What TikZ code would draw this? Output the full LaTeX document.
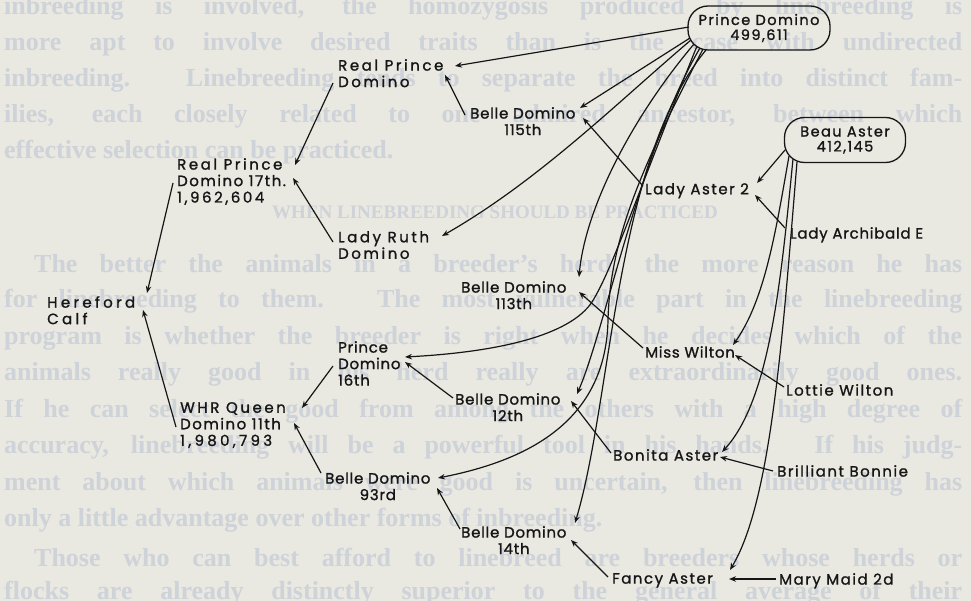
\documentclass[tikz,border=0pt]{standalone}
\usepackage{fontspec}
\setmainfont{Liberation Serif}
\newfontfamily\labA{Poppins}[LetterSpace=5,FakeBold=1.2]
\newfontfamily\labB{Poppins}[LetterSpace=10,FakeBold=1.2]
\newfontfamily\labC{Poppins}[LetterSpace=17,FakeBold=1.2]
\newfontfamily\labD{Poppins}[LetterSpace=22,FakeBold=1.2]
\usetikzlibrary{arrows.meta}
\definecolor{paper}{RGB}{233,232,225}
\definecolor{ghost}{RGB}{206,210,217}
\definecolor{ink}{RGB}{22,22,22}
\tikzset{
  lbl/.style={font=\labA\fontsize{15}{16.5}\selectfont, text=ink, inner sep=0pt, anchor=north west, align=left},
  lblc/.style={lbl, align=center},
  wideB/.style={font=\labB\fontsize{15}{16.5}\selectfont},
  wideC/.style={font=\labC\fontsize{15}{16.5}\selectfont},
  wideD/.style={font=\labD\fontsize{15}{16.5}\selectfont},
  sirebox/.style={draw=ink, line width=1.3pt, rounded corners=20pt, minimum width=142pt, minimum height=44pt,
    font=\labB\fontsize{14.5}{15}\selectfont, text=ink, align=center, inner sep=0pt},
  link/.style={draw=ink, line width=1.2pt, -{Stealth[length=7pt,width=5.5pt]}},
  bgline/.style={font=\bfseries\fontsize{26}{30}\selectfont, text=ghost, anchor=west, inner sep=0pt},
  bghead/.style={font=\bfseries\fontsize{19}{22}\selectfont, text=ghost, anchor=center, inner sep=0pt},
}
\begin{document}
\begin{tikzpicture}[x=1pt,y=-1pt]
\useasboundingbox (0,0) rectangle (971,601);
\fill[paper] (0,0) rectangle (971,601);
% faint page text
\node[bgline] (t1) at (4,8) {\makebox[958pt][s]{inbreeding is involved, the homozygosis produced by linebreeding is}};
\node[bgline] (t2) at (4,44) {\makebox[958pt][s]{more apt to involve desired traits than is the case with undirected}};
\node[bgline] (t3) at (4,80) {\makebox[958pt][s]{inbreeding. Linebreeding tends to separate the breed into distinct fam-}};
\node[bgline] (t4) at (4,116) {\makebox[958pt][s]{ilies, each closely related to one admired ancestor, between which}};
\node[bgline] (t5) at (4,152) {effective selection can be practiced.};
\node[bghead] (th) at (495,212) {WHEN LINEBREEDING SHOULD BE PRACTICED};
\node[bgline] (t6) at (34,265) {\makebox[928pt][s]{The better the animals in a breeder's herd, the more reason he has}};
\node[bgline] (t7) at (4,301) {\makebox[958pt][s]{for linebreeding to them. The most vulnerable part in the linebreeding}};
\node[bgline] (t8) at (4,338) {\makebox[958pt][s]{program is whether the breeder is right when he decides which of the}};
\node[bgline] (t9) at (4,374) {\makebox[958pt][s]{animals really good in his herd really are extraordinarily good ones.}};
\node[bgline] (t10) at (4,411) {\makebox[958pt][s]{If he can select the good from among the others with a high degree of}};
\node[bgline] (t11) at (4,447) {\makebox[958pt][s]{accuracy, linebreeding will be a powerful tool in his hands. If his judg-}};
\node[bgline] (t12) at (4,484) {\makebox[958pt][s]{ment about which animals were good is uncertain, then linebreeding has}};
\node[bgline] (t13) at (4,520) {only a little advantage over other forms of inbreeding.};
\node[bgline] (t14) at (34,557) {\makebox[928pt][s]{Those who can best afford to linebreed are breeders whose herds or}};
\node[bgline] (t15) at (4,593) {\makebox[958pt][s]{flocks are already distinctly superior to the general average of their}};
% sires
\node[sirebox] (pd) at (759,28) {Prince Domino\\499,611};
\node[sirebox, minimum width=121pt, minimum height=45pt] (ba) at (845,140) {Beau Aster\\412,145};
% animals
\node[lbl, wideC] (rpd) at (338,59) {Real Prince\\Domino};
\node[lblc] (bd115) at (470,107) {Belle Domino\\115th};
\node[lbl, wideC] (rpd17) at (177,158) {Real Prince\\{\labB Domino 17th.}\\1,962,604};
\node[lbl, wideC] (lrd) at (338,231) {Lady Ruth\\Domino};
\node[lblc] (bd113) at (461,281) {Belle Domino\\113th};
\node[lbl, wideD] (hc) at (47,296) {Hereford\\Calf};
\node[lbl] (pd16) at (338,341) {Prince\\Domino\\16th};
\node[lbl, wideC] (whr) at (180,402) {WHR Queen\\{\labB Domino 11th}\\{\labD 1,980,793}};
\node[lblc] (bd12) at (455,393) {Belle Domino\\12th};
\node[lblc] (bd93) at (325,472) {Belle Domino\\93rd};
\node[lblc] (bd14) at (461,526) {Belle Domino\\14th};
\node[lbl, wideB] (la2) at (645,183) {Lady Aster 2};
\node[lbl] (lae) at (790,227) {Lady Archibald E};
\node[lbl] (mw) at (645,346) {Miss Wilton};
\node[lbl, wideB] (lw) at (786,384) {Lottie Wilton};
\node[lbl, wideB] (bon) at (613,449) {Bonita Aster};
\node[lbl, wideB] (bb) at (777,465) {Brilliant Bonnie};
\node[lbl, wideB] (fa) at (612,573) {Fancy Aster};
\node[lbl, wideB] (mm) at (779,573) {Mary Maid 2d};
% connectors: parent -> offspring
\draw[link] ([shift={(-4,25)}]rpd17.north west) -- ([shift={(100,-3)}]hc.north west);
\draw[link] ([shift={(-4,25)}]whr.north west) -- ([shift={(96,14)}]hc.north west);
\draw[link] ([shift={(-5,24)}]rpd.north west) -- ([shift={(118,7)}]rpd17.north west);
\draw[link] ([shift={(-5,11)}]lrd.north west) -- ([shift={(116,20)}]rpd17.north west);
\draw[link] ([shift={(-70,-1)}]pd.center) -- ([shift={(117,7)}]rpd.north west);
\draw[link] ([shift={(-5,8)}]bd115.north west) -- ([shift={(107,16)}]rpd.north west);
\draw[link] ([shift={(-69,10)}]pd.center) -- ([shift={(110,1)}]bd115.north west);
\draw[link] ([shift={(-2,3)}]la2.north west) -- ([shift={(113,11)}]bd115.north west);
\draw[link] ([shift={(-60,10)}]ba.center) -- ([shift={(112,0)}]la2.north west);
\draw[link] ([shift={(-5,1)}]lae.north west) -- ([shift={(110,12)}]la2.north west);
\draw[link] ([shift={(-68,12)}]pd.center) .. controls (620,100) and (540,180) .. ([shift={(104,5)}]lrd.north west);
\draw[link] ([shift={(-2,2)}]mw.north west) -- ([shift={(118,11)}]bd113.north west);
\draw[link] ([shift={(-65,16)}]pd.center) .. controls (630,120) and (585,210) .. ([shift={(118,-4)}]bd113.north west);
\draw[link] ([shift={(-2,3)}]lw.north west) -- ([shift={(90,9)}]mw.north west);
\draw[link] ([shift={(-56,16)}]ba.center) .. controls (776,230) and (765,300) .. ([shift={(88,-1)}]mw.north west);
\draw[link] ([shift={(-52,19)}]ba.center) .. controls (781,280) and (770,400) .. ([shift={(109,3)}]bon.north west);
\draw[link] ([shift={(-48,22)}]ba.center) .. controls (783,330) and (772,500) .. ([shift={(118,-3)}]fa.north west);
\draw[link] ([shift={(-4,6)}]bb.north west) -- ([shift={(107,8)}]bon.north west);
\draw[link] ([shift={(-3,6)}]mm.north west) -- ([shift={(117,6)}]fa.north west);
\draw[link] ([shift={(-4,4)}]fa.north west) -- ([shift={(110,14)}]bd14.north west);
\draw[link] ([shift={(-2,4)}]bon.north west) -- ([shift={(116,8)}]bd12.north west);
\draw[link] ([shift={(-62,18)}]pd.center) .. controls (635,200) and (612,270) .. (592,302)
   .. controls (570,335) and (500,352) .. ([shift={(67,16)}]pd16.north west);
\draw[link] ([shift={(-2,5)}]bd12.north west) -- ([shift={(67,21)}]pd16.north west);
\draw[link] ([shift={(-59,20)}]pd.center) .. controls (640,150) and (605,330) .. ([shift={(122,1)}]bd12.north west);
\draw[link] ([shift={(-5,25)}]pd16.north west) -- ([shift={(122,6)}]whr.north west);
\draw[link] ([shift={(-4,1)}]bd93.north west) -- ([shift={(114,21)}]whr.north west);
\draw[link] ([shift={(-56,21)}]pd.center) .. controls (640,170) and (610,240) .. (608,320)
   .. controls (606,420) and (530,460) .. ([shift={(113,6)}]bd93.north west);
\draw[link] ([shift={(-1,3)}]bd14.north west) -- ([shift={(112,16)}]bd93.north west);
\draw[link] ([shift={(-53,22)}]pd.center) .. controls (615,160) and (612,400) .. ([shift={(114,-3)}]bd14.north west);
\end{tikzpicture}
\end{document}
